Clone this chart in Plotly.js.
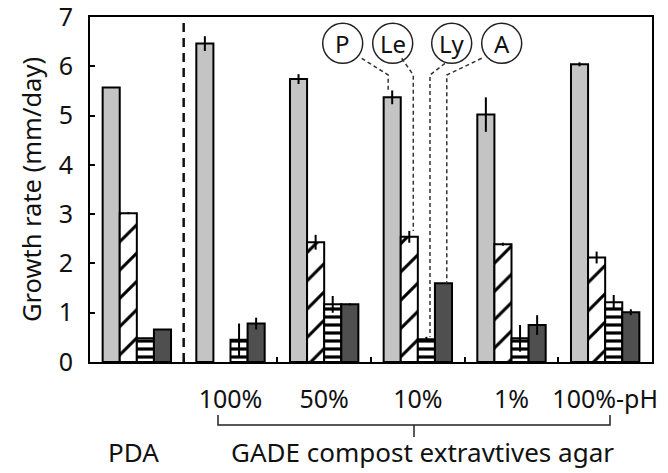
<!DOCTYPE html>
<html>
<head>
<meta charset="utf-8">
<script src="https://cdn.plot.ly/plotly-3.0.1.min.js"></script>
<style>html,body{margin:0;padding:0;background:#fff;}#chart{width:668px;height:473px;}</style>
</head>
<body>
<div id="chart"></div>
<script>
// ---- data ----
var categories = ['PDA', '100%', '50%', '10%', '1%', '100%-pH'];
var tickLabels = ['', '100%', '50%', '10%', '1%', '100%-pH'];
var seriesNames = ['P', 'Le', 'Ly', 'A'];
var valP  = [5.57, 6.46, 5.74, 5.37, 5.02, 6.04];
var errP  = [0.00, 0.15, 0.10, 0.14, 0.35, 0.04];
var valLe = [3.02, null, 2.43, 2.54, 2.39, 2.12];
var errLe = [0.02, 0.00, 0.15, 0.12, 0.03, 0.12];
var valLy = [0.48, 0.45, 1.17, 0.46, 0.48, 1.21];
var errLy = [0.00, 0.33, 0.17, 0.05, 0.27, 0.15];
var valA  = [0.66, 0.78, 1.17, 1.60, 0.75, 1.01];
var errA  = [0.00, 0.12, 0.02, 0.00, 0.20, 0.06];
var groupLabel = 'GADE compost extravtives agar';
var pdaLabel = 'PDA';
var yTitle = 'Growth rate (mm/day)';

// ---- geometry helpers (layout only) ----
var W = 668, H = 473, ML = 90, MR = 16, MT = 17, MB = 111;
var plotW = W - ML - MR, plotH = H - MT - MB;
var nCat = categories.length, yMax = 7;
function px2x(px) { return (px - ML) / (plotW / nCat) - 0.5; }
function py2y(py) { return (MT + plotH - py) / (plotH / yMax); }
function py2paper(py) { return (MT + plotH - py) / plotH; }

var FONT = '"Noto Sans", "Open Sans", sans-serif';
var outline = {color: '#000', width: 2};
function errbar(arr) {
  return {type: 'data', array: arr, visible: true, color: '#000', thickness: 2, width: 0};
}

var traces = [
  {type: 'bar', name: seriesNames[0], x: categories, y: valP, error_y: errbar(errP),
   marker: {color: '#c4c4c4', line: outline}},
  {type: 'bar', name: seriesNames[1], x: categories, y: valLe, error_y: errbar(errLe),
   marker: {color: '#ffffff', line: outline,
            pattern: {shape: '/', fgcolor: '#000', bgcolor: '#fff', size: 20, solidity: 0.15}}},
  {type: 'bar', name: seriesNames[2], x: categories, y: valLy, error_y: errbar(errLy),
   marker: {color: '#ffffff', line: outline,
            pattern: {shape: '-', fgcolor: '#000', bgcolor: '#fff', size: 8, solidity: 0.4}}},
  {type: 'bar', name: seriesNames[3], x: categories, y: valA, error_y: errbar(errA),
   marker: {color: '#4f4f4f', line: outline}}
];

// ---- legend circles with leader lines (point to 10% group) ----
var bargap = 0.27;
var bw = (1 - bargap) / 4;
var legCat = categories.indexOf('10%');
var tops = [valP[legCat] + errP[legCat], valLe[legCat] + errLe[legCat],
            valLy[legCat] + errLy[legCat], valA[legCat]];
var circlePx = [342.7, 392.7, 451.7, 501.7];
var circlePy = 43.3;
var startPx = [[361.7, 58.3], [401.7, 58.3], [445, 63.3], [481.7, 58.3]];
var lineShiftPx = [-4, 4, 3.6, 3.3];
var bendPy = 75;

var shapes = [];
var annotations = [];
for (var k = 0; k < 4; k++) {
  var cx = px2x(circlePx[k]);
  shapes.push({type: 'circle', xref: 'x', yref: 'y', xsizemode: 'pixel', ysizemode: 'pixel',
    xanchor: cx, yanchor: py2y(circlePy), x0: -20, x1: 20, y0: -20, y1: 20,
    line: {color: '#222', width: 1.5}, fillcolor: 'rgba(255,255,255,0)'});
  annotations.push({xref: 'x', yref: 'y', x: cx, y: py2y(circlePy), text: seriesNames[k],
    showarrow: false, font: {family: FONT, size: 24, color: '#111'}, xanchor: 'center', yanchor: 'middle'});
  var vx = legCat + (k - 1.5) * bw + lineShiftPx[k] / (plotW / nCat);
  var sx = px2x(startPx[k][0]), sy = py2y(startPx[k][1]), by = py2y(bendPy);
  shapes.push({type: 'path', xref: 'x', yref: 'y',
    path: 'M ' + sx + ',' + sy + ' L ' + vx + ',' + by + ' L ' + vx + ',' + tops[k],
    line: {color: '#333', width: 1.5, dash: '4px,3px'}});
}

// dashed separator between PDA and GADE groups
shapes.push({type: 'line', xref: 'x', yref: 'y', x0: 0.5, x1: 0.5, y0: 0, y1: yMax,
  line: {color: '#111', width: 2.5, dash: '9px,6px'}});

// bracket under GADE categories
var bx0 = px2x(218), bx1 = px2x(610), bxm = px2x(414);
var byLine = py2paper(425), byUp = py2paper(415), byDown = py2paper(437);
shapes.push({type: 'path', xref: 'x', yref: 'paper',
  path: 'M ' + bx0 + ',' + byUp + ' L ' + bx0 + ',' + byLine + ' L ' + bx1 + ',' + byLine + ' L ' + bx1 + ',' + byUp,
  line: {color: '#222', width: 1.5}});
shapes.push({type: 'line', xref: 'x', yref: 'paper', x0: bxm, x1: bxm, y0: byLine, y1: byDown,
  line: {color: '#222', width: 1.5}});

annotations.push({xref: 'x', yref: 'paper', x: px2x(133), y: py2paper(452), text: pdaLabel,
  showarrow: false, font: {family: FONT, size: 26, color: '#111'}, xanchor: 'center', yanchor: 'middle'});
annotations.push({xref: 'x', yref: 'paper', x: px2x(422), y: py2paper(452), text: groupLabel,
  showarrow: false, font: {family: FONT, size: 26, color: '#111'}, xanchor: 'center', yanchor: 'middle'});

var layout = {
  width: W, height: H,
  margin: {l: ML, r: MR, t: MT, b: MB, pad: 0},
  paper_bgcolor: '#fff', plot_bgcolor: '#fff',
  barmode: 'group', bargap: bargap, bargroupgap: 0,
  showlegend: false,
  font: {family: FONT, size: 25, color: '#111'},
  xaxis: {type: 'category', range: [-0.5, nCat - 0.5], tickvals: categories, ticktext: tickLabels,
    tickangle: 0, ticklabeloverflow: 'allow',
    showline: true, mirror: true, linecolor: '#000', linewidth: 2,
    ticks: 'inside', tickson: 'boundaries', ticklen: 5, tickwidth: 2, tickcolor: '#000',
    showgrid: false, zeroline: false, ticklabelstandoff: 14,
    tickfont: {family: FONT, size: 25, color: '#111'}},
  yaxis: {range: [0, yMax], dtick: 1, showline: true, mirror: true, linecolor: '#000', linewidth: 2,
    ticklabeloverflow: 'allow',
    ticks: 'inside', ticklen: 5, tickwidth: 2, tickcolor: '#000', showgrid: false, zeroline: false,
    ticklabelstandoff: 10, tickfont: {family: FONT, size: 25, color: '#111'},
    title: {text: yTitle, font: {family: FONT, size: 25.5, color: '#111'}, standoff: 10}},
  shapes: shapes,
  annotations: annotations
};

Plotly.newPlot('chart', traces, layout, {displayModeBar: false, staticPlot: true});
</script>
</body>
</html>
